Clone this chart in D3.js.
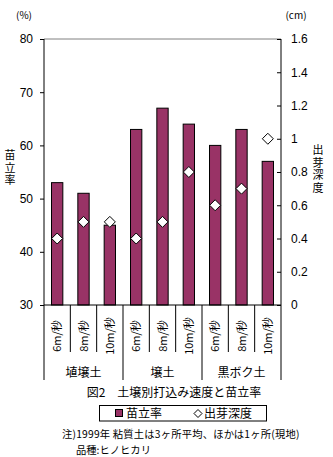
<!DOCTYPE html>
<html>
<head>
<meta charset="utf-8">
<script src="https://cdn.jsdelivr.net/npm/d3@7/dist/d3.min.js"></script>
<style>
  html, body { margin: 0; padding: 0; background: #fff; }
  svg { display: block; font-family: "Noto Sans CJK JP", "Noto Sans", sans-serif; }
  .vtitle { writing-mode: vertical-rl; }
</style>
</head>
<body>
<svg id="chart" width="333" height="457"></svg>
<script>
// Soil types and seeding (shooting) speeds
const groups = ["埴壌土", "壌土", "黒ボク土"];
const speeds = ["6m/秒", "8m/秒", "10m/秒"];
// Seedling establishment rate (%) per soil × speed
const standRate = [53, 51, 45, 63, 67, 64, 60, 63, 57];
// Emergence depth (cm) per soil × speed
const depth = [0.4, 0.5, 0.5, 0.4, 0.5, 0.8, 0.6, 0.7, 1.0];
const leftTicks = [30, 40, 50, 60, 70, 80];
const rightTicks = [0, 0.2, 0.4, 0.6, 0.8, 1, 1.2, 1.4, 1.6];

const cats = [];
groups.forEach((g, gi) => speeds.forEach((s, si) => cats.push({ key: gi + "-" + si, group: g, speed: s })));

const svg = d3.select("#chart");
const L = 44, R = 281, T = 39, B = 305;
const x = d3.scaleBand().domain(cats.map(d => d.key)).range([L, R]).padding(0);
const yL = d3.scaleLinear().domain([30, 80]).range([B, T]);
const yR = d3.scaleLinear().domain([0, 1.6]).range([B, T]);

// top frame line
svg.append("line").attr("x1", L).attr("x2", R).attr("y1", T).attr("y2", T)
  .attr("stroke", "#808080").attr("stroke-width", 1);

// bars
const barW = x.bandwidth() * 0.43;
svg.append("g").selectAll("rect").data(cats).join("rect")
  .attr("x", (d, i) => x(d.key) + (x.bandwidth() - barW) / 2)
  .attr("y", (d, i) => yL(standRate[i]))
  .attr("width", barW)
  .attr("height", (d, i) => B - yL(standRate[i]))
  .attr("fill", "#993366").attr("stroke", "#000").attr("stroke-width", 1);

// left axis
const axL = svg.append("g").attr("transform", `translate(${L},0)`)
  .call(d3.axisLeft(yL).tickValues(leftTicks).tickSize(4).tickPadding(7).tickFormat(d3.format("d")));
axL.select(".domain").remove();
axL.selectAll("line").attr("stroke", "#000");
axL.selectAll("text").attr("font-size", 12).attr("fill", "#000").attr("font-family", "Liberation Sans, sans-serif");

// right axis (ticks pointing inward)
const axR = svg.append("g").attr("transform", `translate(${R},0)`)
  .call(d3.axisRight(yR).tickValues(rightTicks).tickSize(-4).tickPadding(10).tickFormat(d => d3.format("")(d)));
axR.select(".domain").remove();
axR.selectAll("line").attr("stroke", "#000");
axR.selectAll("text").attr("font-size", 12).attr("fill", "#000").attr("font-family", "Liberation Sans, sans-serif");

// vertical axis lines, extended downward as group separators
const gEdges = [0, 3, 6, 9].map(i => i < 9 ? x(cats[i].key) : R);
svg.append("g").selectAll("line").data(gEdges).join("line")
  .attr("x1", d => d).attr("x2", d => d)
  .attr("y1", (d, i) => (i === 0 || i === 3) ? T : B).attr("y2", 380)
  .attr("stroke", "#000");

// category separators below the x axis
const cEdges = cats.map(d => x(d.key)).filter((d, i) => i % 3 !== 0);
svg.append("g").selectAll("line").data(cEdges).join("line")
  .attr("x1", d => d).attr("x2", d => d).attr("y1", B).attr("y2", 352)
  .attr("stroke", "#000");

// x axis baseline
svg.append("line").attr("x1", L).attr("x2", R).attr("y1", B).attr("y2", B).attr("stroke", "#000");

// diamonds for emergence depth
const dm = 5.5;
svg.append("g").selectAll("path").data(cats).join("path")
  .attr("d", `M0,${-dm}L${dm},0L0,${dm}L${-dm},0Z`)
  .attr("transform", (d, i) => `translate(${x(d.key) + x.bandwidth() / 2},${yR(depth[i])})`)
  .attr("fill", "#fff").attr("stroke", "#000").attr("stroke-width", 1);

// rotated speed labels
svg.append("g").selectAll("text").data(cats).join("text")
  .attr("transform", d => `translate(${x(d.key) + x.bandwidth() / 2 + 4},336) rotate(-90)`)
  .attr("text-anchor", "middle").attr("font-size", 11).text(d => d.speed);

// soil group labels
svg.append("g").selectAll("text").data(groups).join("text")
  .attr("x", (d, i) => (gEdges[i] + gEdges[i + 1]) / 2).attr("y", 377)
  .attr("text-anchor", "middle").attr("font-size", 12).text(d => d);

// unit labels
svg.append("text").attr("x", 24).attr("y", 19).attr("text-anchor", "middle").attr("font-size", 10).text("(%)");
svg.append("text").attr("x", 296).attr("y", 19).attr("text-anchor", "middle").attr("font-size", 10).text("(cm)");

// vertical axis titles, set in vertical writing mode
svg.append("text").attr("class", "vtitle").attr("x", 10).attr("y", 149.5)
  .attr("font-size", 11).attr("letter-spacing", 1.5).text("苗立率");
svg.append("text").attr("class", "vtitle").attr("x", 318).attr("y", 144.5)
  .attr("font-size", 11).attr("letter-spacing", 1.5).text("出芽深度");

// figure title
svg.append("text").attr("x", 174).attr("y", 397).attr("text-anchor", "middle").attr("font-size", 12)
  .text("図2　土壌別打込み速度と苗立率");

// legend
const lg = svg.append("g");
lg.append("rect").attr("x", 99.5).attr("y", 405.5).attr("width", 167).attr("height", 15.5)
  .attr("fill", "#fff").attr("stroke", "#000");
lg.append("rect").attr("x", 115.5).attr("y", 409.5).attr("width", 7).attr("height", 7)
  .attr("fill", "#993366").attr("stroke", "#000");
lg.append("text").attr("x", 126).attr("y", 418).attr("font-size", 12).text("苗立率");
const ld = 4;
lg.append("path").attr("d", `M0,${-ld}L${ld},0L0,${ld}L${-ld},0Z`)
  .attr("transform", "translate(198,413.5)").attr("fill", "#fff").attr("stroke", "#000");
lg.append("text").attr("x", 204).attr("y", 418).attr("font-size", 12).text("出芽深度");

// notes
svg.append("text").attr("x", 62).attr("y", 438).attr("font-size", 10.3).attr("letter-spacing", 0.2)
  .text("注)1999年  粘質土は3ヶ所平均、ほかは1ヶ所(現地)");
svg.append("text").attr("x", 76).attr("y", 453.5).attr("font-size", 10.3).text("品種:ヒノヒカリ");
</script>
</body>
</html>
